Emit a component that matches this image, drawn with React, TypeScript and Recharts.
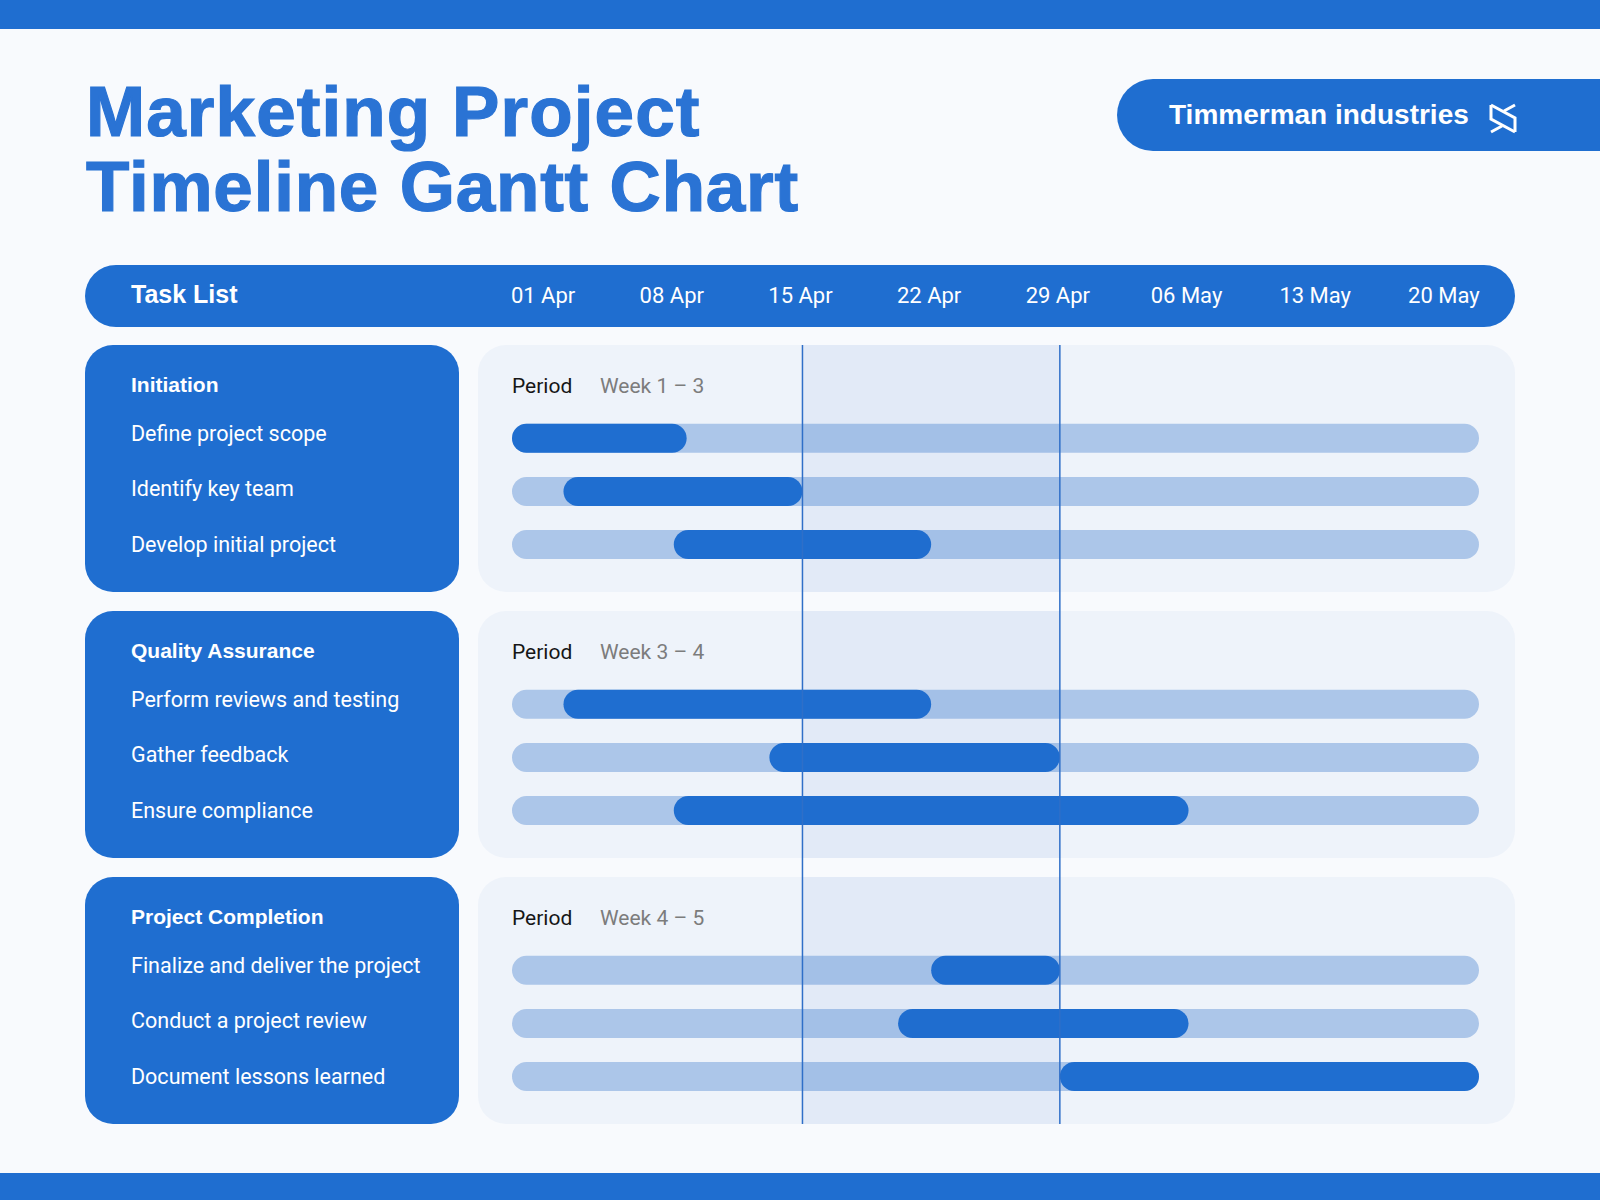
import { BarChart, Bar, XAxis, YAxis, ReferenceArea, ReferenceLine } from "recharts";

const GROUP_NAMES = ["Initiation", "Quality Assurance", "Project Completion"];
const GROUP_PERIODS = ["Week 1 – 3", "Week 3 – 4", "Week 4 – 5"];
const GROUP_TASKS = [
  ["Define project scope", "Identify key team", "Develop initial project"],
  ["Perform reviews and testing", "Gather feedback", "Ensure compliance"],
  ["Finalize and deliver the project", "Conduct a project review", "Document lessons learned"],
];

// days counted from 01 Apr
const TASK_START = [-1.8, 1, 7, 1, 12.2, 7, 21, 19.2, 28];
const TASK_END = [7.7, 14, 21, 21, 28, 35, 28, 35, 50.8];
const TIMELINE_START = -1.8;
const TIMELINE_END = 50.8;
const TICK_DAYS = [0, 7, 14, 21, 28, 35, 42, 49];
const TICK_LABELS = ["01 Apr", "08 Apr", "15 Apr", "22 Apr", "29 Apr", "06 May", "13 May", "20 May"];
const HIGHLIGHT_DAYS = [14, 28];

const BLUE = "#1F6ED0";
const TITLE_BLUE = "#2A73D4";
const TRACK = "#ACC6E9";
const PAGE_BG = "#F8FAFD";
const PANEL_BG = "#EEF3FA";

const HEAD = "'Liberation Sans', Arial, sans-serif";
const BODY = "Roboto, 'Noto Sans', sans-serif";

const CHART_TOP = 265;
const GROUP_TOP = 345;
const GROUP_PITCH = 266;
const BOX_H = 247;
const LABEL_BASELINES = [95.5, 150.5, 207];

type Row = { key: string; track: [number, number] | null; span: [number, number] | null };

const rows: Row[] = [];
GROUP_NAMES.forEach((_, g) => {
  rows.push({ key: `period-${g}`, track: null, span: null });
  GROUP_TASKS[g].forEach((task, i) => {
    const idx = g * 3 + i;
    rows.push({ key: task, track: [TIMELINE_START, TIMELINE_END], span: [TASK_START[idx], TASK_END[idx]] });
  });
  if (g < GROUP_NAMES.length - 1) rows.push({ key: `gap-${g}`, track: null, span: null });
});

// highlight band: x from the axis scale, cut to the three panels
function PanelBand(props: any) {
  return (
    <g>
      {GROUP_NAMES.map((name, g) => (
        <rect
          key={name}
          x={props.x}
          width={props.width}
          y={GROUP_TOP + g * GROUP_PITCH - CHART_TOP}
          height={BOX_H}
          fill={BLUE}
          fillOpacity={0.06}
        />
      ))}
    </g>
  );
}

function Backdrop() {
  return (
    <svg width={1600} height={1200} style={{ position: "absolute", left: 0, top: 0 }}>
      <rect x={0} y={0} width={1600} height={1200} fill={PAGE_BG} />
      <rect x={0} y={0} width={1600} height={29} fill={BLUE} />
      <rect x={0} y={1173} width={1600} height={27} fill={BLUE} />

      <g fontFamily={HEAD} fontWeight={700} fontSize={71} fill={TITLE_BLUE} stroke={TITLE_BLUE} strokeWidth={1.2}>
        <text x={86} y={136} letterSpacing={1.1}>
          Marketing Project
        </text>
        <text x={86} y={211} letterSpacing={0.8}>
          Timeline Gantt Chart
        </text>
      </g>

      <rect x={1117} y={79} width={560} height={72} rx={36} fill={BLUE} />
      <text x={1169} y={124} fontFamily={HEAD} fontWeight={700} fontSize={28} fill="#fff">
        Timmerman industries
      </text>
      <g transform="translate(1489,103)" stroke="#fff" strokeWidth={3} fill="none" strokeLinejoin="miter">
        <path d="M2 2 L2 16 L26 29" />
        <path d="M26 29 L26 15 L2 2" />
        <path d="M26 2 L15 8" />
        <path d="M2 29 L13 23" />
      </g>

      <rect x={85} y={265} width={1430} height={62} rx={31} fill={BLUE} />
      <text x={131} y={303} fontFamily={HEAD} fontWeight={700} fontSize={25} fill="#fff">
        Task List
      </text>

      {GROUP_NAMES.map((name, g) => {
        const top = GROUP_TOP + g * GROUP_PITCH;
        return (
          <g key={name}>
            <rect x={85} y={top} width={374} height={BOX_H} rx={28} fill={BLUE} />
            <rect x={478} y={top} width={1037} height={BOX_H} rx={28} fill={PANEL_BG} />
            <text x={131} y={top + 46.5} fontFamily={HEAD} fontWeight={700} fontSize={21} fill="#fff">
              {name}
            </text>
            {GROUP_TASKS[g].map((task, i) => (
              <text key={task} x={131} y={top + LABEL_BASELINES[i]} fontFamily={BODY} fontSize={21.5} fill="#fff">
                {task}
              </text>
            ))}
            <text x={512} y={top + 47.5} fontFamily={BODY} fontSize={21} fill="#161616">
              Period
            </text>
            <text x={600} y={top + 47.5} fontFamily={BODY} fontSize={21} fill="#7C7C7C">
              {GROUP_PERIODS[g]}
            </text>
          </g>
        );
      })}
    </svg>
  );
}

export default function App() {
  return (
    <div style={{ position: "absolute", left: 0, top: 0, width: 1600, height: 1200, overflow: "hidden" }}>
      <Backdrop />
      <div style={{ position: "absolute", left: 478, top: CHART_TOP }}>
        <BarChart
          width={1037}
          height={859}
          data={rows}
          layout="vertical"
          margin={{ top: 0, right: 36, bottom: 0, left: 34 }}
          barSize={29}
          barGap={-29}
        >
          <XAxis
            type="number"
            orientation="top"
            domain={[TIMELINE_START, TIMELINE_END]}
            allowDataOverflow
            ticks={TICK_DAYS}
            tickFormatter={(v: number) => TICK_LABELS[TICK_DAYS.indexOf(v)] ?? ""}
            height={80}
            axisLine={false}
            tickLine={false}
            tickSize={0}
            tickMargin={42}
            interval={0}
            tick={{ fill: "#ffffff", fontSize: 22, fontFamily: BODY, dx: -2 }}
          />
          <YAxis type="category" dataKey="key" hide padding={{ top: 13.5, bottom: 20.7 }} />
          <Bar dataKey="track" fill={TRACK} radius={14.5} isAnimationActive={false} />
          <Bar dataKey="span" fill={BLUE} radius={14.5} isAnimationActive={false} />
          <ReferenceArea
            x1={HIGHLIGHT_DAYS[0]}
            x2={HIGHLIGHT_DAYS[1]}
            shape={PanelBand}
            zIndex={350}
          />
          {HIGHLIGHT_DAYS.map((d) => (
            <ReferenceLine key={d} x={d} stroke="#2F6FC8" strokeWidth={1.5} zIndex={360} />
          ))}
        </BarChart>
      </div>
    </div>
  );
}
